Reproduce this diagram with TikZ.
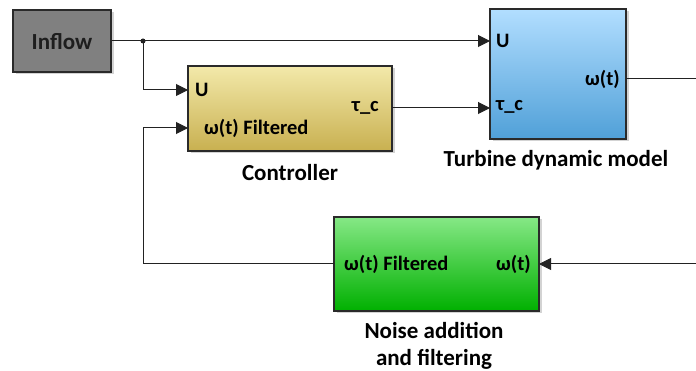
\documentclass[tikz,border=0pt]{standalone}
\usepackage{fontspec}
\setmainfont{Carlito}
\usetikzlibrary{arrows.meta,shadows}
\definecolor{wirec}{HTML}{222222}
\definecolor{edgec}{HTML}{2A2A2A}
\begin{document}
\begin{tikzpicture}[x=1pt,y=-1pt,
  blockbox/.style={draw=edgec,line width=1.3pt,inner sep=0pt,
    drop shadow={shadow xshift=2.5pt,shadow yshift=-2.5pt,opacity=0.35}},
  portlbl/.style={inner sep=0pt,font=\fontsize{20.5}{22}\selectfont\bfseries},
  blocklbl/.style={inner sep=0pt,font=\fontsize{23}{27}\selectfont\bfseries,align=center},
  wire/.style={draw=wirec,line width=1pt},
  arr/.style={wire,-{Triangle[length=12pt,width=12pt]}}]
\useasboundingbox (0,0) rectangle (696,371);
% blocks
\node[blockbox,fill={rgb,255:red,128;green,128;blue,128},minimum width=98pt,minimum height=62pt] (inflow) at (62,41) {};
\node[inner sep=0pt,font=\fontsize{23}{24}\selectfont\bfseries,text={rgb,255:red,30;green,30;blue,30}] (inflowtxt) at (62,42) {Inflow};
\node[blockbox,top color={rgb,255:red,243;green,233;blue,170},bottom color={rgb,255:red,200;green,176;blue,80},minimum width=204pt,minimum height=85pt] (ctrl) at (290,108.5) {};
\node[blockbox,top color={rgb,255:red,178;green,222;blue,255},bottom color={rgb,255:red,80;green,160;blue,216},minimum width=136pt,minimum height=130pt] (turb) at (558,74) {};
\node[blockbox,top color={rgb,255:red,134;green,232;blue,134},bottom color={rgb,255:red,0;green,176;blue,0},minimum width=205pt,minimum height=94pt] (noise) at (436.5,264) {};
% port coordinates
\coordinate (cU) at (188,90);
\coordinate (cW) at (188,128);
\coordinate (cT) at (392,108);
\coordinate (tU) at (490,41);
\coordinate (tT) at (490,108);
\coordinate (tW) at (626,79);
\coordinate (nF) at (334,264);
\coordinate (nW) at (539,264);
\coordinate (outR) at (696,79);
\coordinate (inR) at (696,264);
\coordinate (j) at (143,41);
\coordinate (fb) at (143,264);
% port labels
\node[portlbl,anchor=west] (lcU) at (195,90) {U};
\node[portlbl,anchor=west] (lcW) at (204,128) {ω(t) Filtered};
\node[portlbl,anchor=east] (lcT) at (379,108) {τ\_c};
\node[portlbl,anchor=west] (ltU) at (496,41) {U};
\node[portlbl,anchor=west] (ltT) at (496,107) {τ\_c};
\node[portlbl,anchor=east] (ltW) at (620,79) {ω(t)};
\node[portlbl,anchor=west] (lnF) at (344,264) {ω(t) Filtered};
\node[portlbl,anchor=east] (lnW) at (531,264) {ω(t)};
% block labels
\node[blocklbl] (lctrl) at (290,173) {Controller};
\node[blocklbl] (lturb) at (556,160) {Turbine dynamic model};
\node[blocklbl] (lnoise) at (434,346) {Noise addition\\and filtering};
% wires
\draw[arr] (inflow.east |- tU) -- (tU);
\fill[wirec] (j) circle (2.5pt);
\draw[arr] (j) |- (cU);
\draw[arr] (cT) -- (tT);
\draw[wire] (tW) -- (outR);
\draw[arr] (inR) -- (nW);
\draw[arr] (nF) -- (fb) |- (cW);
\end{tikzpicture}
\end{document}
